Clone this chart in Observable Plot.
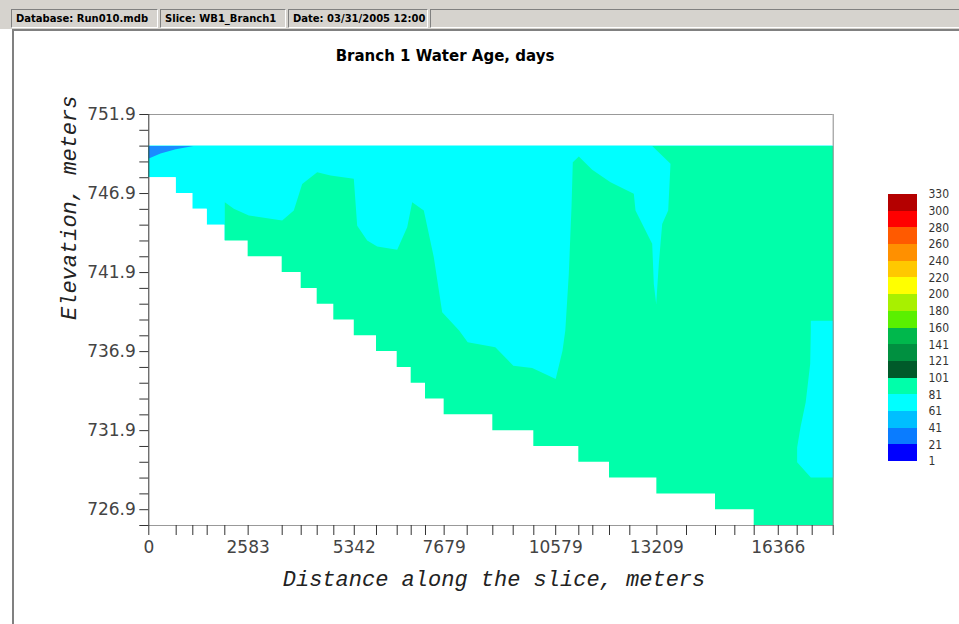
<!DOCTYPE html>
<html><head><meta charset="utf-8">
<script src="https://cdn.jsdelivr.net/npm/d3@7"></script>
<script src="https://cdn.jsdelivr.net/npm/@observablehq/plot@0.6"></script>
<style>
body{margin:0;background:#fff;width:959px;height:624px;overflow:hidden;position:relative;font-family:"DejaVu Sans",sans-serif;}
#bar{position:absolute;left:0;top:0;width:959px;height:29px;background:#d6d3ce;}
.pnl{position:absolute;top:9px;height:19px;border-top:1px solid #808080;border-left:1px solid #808080;border-bottom:1px solid #fff;border-right:1px solid #fff;font:bold 10px "DejaVu Sans";line-height:17px;color:#000;padding-left:4px;box-sizing:border-box;background:#d6d3ce;white-space:nowrap;}
#panel{position:absolute;left:12px;top:29px;width:960px;height:600px;border-top:2px solid #808080;border-left:2px solid #808080;background:#fff;}
#title{position:absolute;left:0;width:890px;top:47px;text-align:center;font:bold 15px "DejaVu Sans";color:#000;}
#main{position:absolute;left:0;top:30px;}
#legend{position:absolute;left:870px;top:180px;}
</style>
</head><body>
<div id="bar">
  <div class="pnl" style="left:11px;width:147px">Database: Run010.mdb</div>
  <div class="pnl" style="left:160px;width:126px">Slice: WB1_Branch1</div>
  <div class="pnl" style="left:288px;width:140px">Date: 03/31/2005 12:00</div>
  <div class="pnl" style="left:430px;width:540px"></div>
</div>
<div id="panel"></div>
<div id="title">Branch 1 Water Age, days</div>
<div id="main"></div>
<div id="legend"></div>
<script>
// segment (grid column) edges along the slice, meters
const xEdges = [0, 712, 1144, 1518, 1976, 2583, 3468, 3962, 4378, 4810, 5342, 5920, 6458, 6822, 7194, 7679, 8278, 8944, 9474, 10010, 10579, 11180, 11544, 11978, 12506, 13209, 13980, 14734, 15236, 15740, 16366, 16858, 17248, 17794];
// bed elevation of each column, meters
const bedElev = [747.9, 746.9, 745.9, 744.9, 743.9, 742.9, 741.9, 740.9, 739.9, 738.9, 737.9, 736.9, 735.9, 734.9, 733.9, 732.9, 732.9, 731.9, 731.9, 730.9, 730.9, 729.9, 729.9, 728.9, 728.9, 727.9, 727.9, 726.9, 726.9, 725.9, 725.9, 725.9, 725.9];
const surfaceElev = 749.9;
const yTop = 751.9, yBottom = 725.9;
const xTickLabels = ["0", "2583", "5342", "7679", "10579", "13209", "16366"];
const yTickLabels = ["751.9", "746.9", "741.9", "736.9", "731.9", "726.9"];

// 81-101 day zone (green) boundary [distance, elevation]
const zone81to101 = [
  [1976, 725.9], [1976, 746.35], [2210, 745.93], [2600, 745.51], [3468, 745.19], [3770, 745.82],
  [3988, 747.51], [4378, 748.25], [4724, 748.04], [5330, 747.83], [5418, 744.87], [5678, 743.93],
  [5938, 743.55], [6458, 743.34], [6718, 744.77], [6848, 746.35], [7150, 745.82], [7410, 742.87],
  [7628, 739.39], [8068, 738.23], [8291, 737.49], [9009, 737.17], [9477, 736.01], [9968, 735.87],
  [10579, 735.17], [10756, 736.96], [10829, 738.23], [10920, 741.82], [10990, 746.03], [11024, 748.88],
  [11180, 749.24], [11528, 748.4], [12004, 747.62], [12610, 746.88], [12654, 745.82], [13044, 743.93],
  [13088, 743.72], [13130, 741.18], [13192, 739.92], [13260, 742.45], [13348, 744.98], [13504, 745.82],
  [13564, 748.78], [13088, 749.9], [17794, 749.9], [17794, 725.9]
];
// 61-81 day zone near the downstream end
const zone61to81Right = [
  [17212, 738.86], [17794, 738.86], [17794, 728.94], [17212, 728.94], [16856, 729.9], [16856, 730.84],
  [16944, 732.11], [17079, 733.69], [17196, 736.14], [17212, 738.23]
];
// 21-41 day zone at the upstream surface
const zone21to41 = [[0, 749.9], [1162, 749.9], [700, 749.7], [304, 749.43], [0, 749.12]];

const legendColors = ["#0000ff", "#0a7cff", "#00bfff", "#00ffff", "#00ffaa", "#005a2a", "#009040", "#00b84c", "#5af000", "#a8f000", "#ffff00", "#ffc800", "#ff9000", "#ff5a00", "#ff0000", "#b40000"];
const legendLabels = ["1", "21", "41", "61", "81", "101", "121", "141", "160", "180", "200", "220", "240", "260", "280", "300", "330"];

// step profile of the channel: one point per column edge (last edge repeats last column)
const profile = xEdges.map((x, i) => ({x, bed: bedElev[Math.min(i, bedElev.length - 1)], top: surfaceElev, floor: yBottom}));
const yTicks = d3.range(0, 27).map(i => yBottom + i);
const axisFont = "DejaVu Sans";
const titleFont = "'Liberation Mono', 'DejaVu Sans Mono', monospace";

const main = Plot.plot({
  width: 959, height: 594,
  marginLeft: 148.3, marginRight: 126.3, marginTop: 84, marginBottom: 99,
  x: {domain: [0, 17794]},
  y: {domain: [yBottom, yTop]},
  style: {background: "transparent", overflow: "visible"},
  marks: [
    Plot.areaY(profile, {x: "x", y1: "bed", y2: "top", curve: "step-after", fill: "#00ffff"}),
    Plot.line(zone81to101, {x: d => d[0], y: d => d[1], fill: "#00ffaa", stroke: "none"}),
    Plot.line(zone61to81Right, {x: d => d[0], y: d => d[1], fill: "#00ffff", stroke: "none"}),
    Plot.line(zone21to41, {x: d => d[0], y: d => d[1], fill: "#1a8cff", stroke: "none"}),
    Plot.areaY(profile, {x: "x", y1: "floor", y2: "bed", curve: "step-after", fill: "white"}),
    Plot.ruleY([yTop], {stroke: "#999"}),
    Plot.ruleX([17794], {y1: yBottom, y2: yTop, stroke: "#888"}),
    Plot.ruleY([yBottom], {stroke: "#999"}),
    Plot.ruleX([0], {y1: yBottom, y2: yTop, stroke: "#333"}),
    Plot.axisX(xEdges, {
      tickSize: 10, tickPadding: 5, stroke: "#333", fill: "#444", fontSize: 17, fontFamily: axisFont,
      tickFormat: d => xTickLabels.includes(String(d)) ? String(d) : "", label: null
    }),
    Plot.axisY(yTicks, {
      tickSize: 9, tickPadding: 4, stroke: "#333", fill: "#444", fontSize: 17, fontFamily: axisFont,
      tickFormat: d => { const s = d.toFixed(1); return yTickLabels.includes(s) ? s : ""; }, label: null
    }),
    Plot.text(["Elevation, meters"], {frameAnchor: "left", dx: -80, rotate: -90, lineAnchor: "middle",
      fontFamily: titleFont, fontStyle: "italic", fontSize: 22, fill: "#222"}),
    Plot.text(["Distance along the slice, meters"], {frameAnchor: "bottom", dy: 53, dx: 3, lineAnchor: "middle",
      fontFamily: titleFont, fontStyle: "italic", fontSize: 22, fill: "#222"})
  ]
});
document.getElementById("main").append(main);

const legend = Plot.plot({
  width: 89, height: 300,
  marginLeft: 18, marginRight: 42, marginTop: 14, marginBottom: 19,
  x: {domain: [0, 1], axis: null},
  y: {domain: [0, 16], axis: null},
  color: {type: "identity"},
  style: {background: "transparent", overflow: "visible"},
  marks: [
    Plot.rect(legendColors, {x1: 0, x2: 1, y1: (d, i) => i, y2: (d, i) => i + 1, fill: d => d, shapeRendering: "crispEdges"}),
    Plot.text(legendLabels, {x: 1, y: (d, i) => i, dx: 11, textAnchor: "start", fontSize: 12,
      fontFamily: "'Liberation Sans Narrow', 'DejaVu Sans Condensed', sans-serif", fill: "#333"})
  ]
});
document.getElementById("legend").append(legend);
</script>
</body></html>
